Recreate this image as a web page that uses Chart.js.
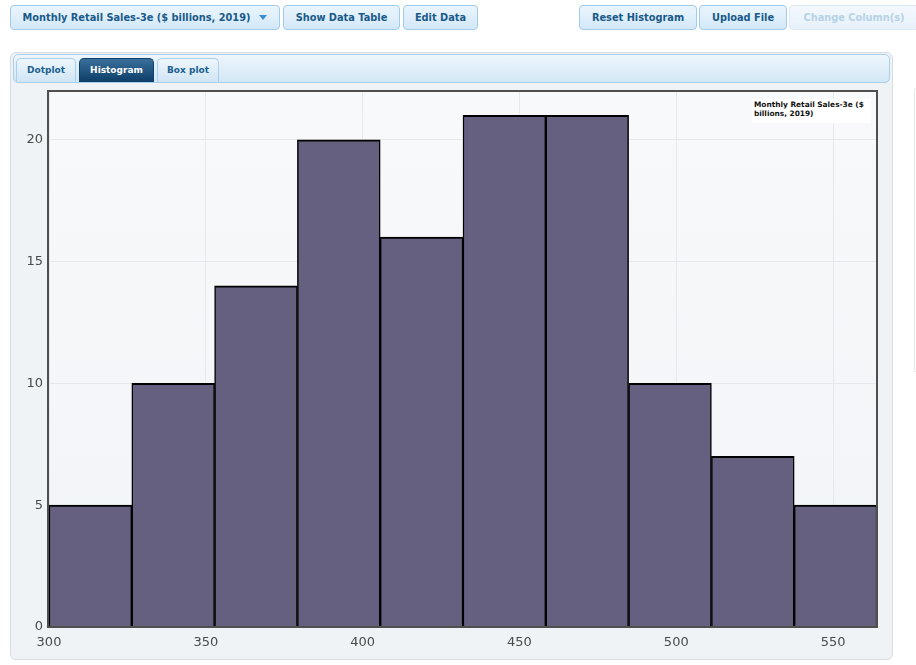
<!DOCTYPE html>
<html>
<head>
<meta charset="utf-8">
<script src="https://cdn.jsdelivr.net/npm/chart.js@4/dist/chart.umd.min.js"></script>
<style>
  html, body { margin:0; padding:0; background:#fff; width:916px; height:665px; overflow:hidden; font-family:"DejaVu Sans", sans-serif; }
  .btn { position:absolute; top:5px; height:25px; box-sizing:border-box; border:1px solid #9fcbec; border-radius:4px;
         background:linear-gradient(#eaf5fd, #d3e8f8); color:#195a8a; font-weight:bold; font-size:9.8px;
         line-height:24px; text-align:center; white-space:nowrap; }
  .btn.disabled { color:#b6d2e6; background:linear-gradient(#f3f8fd, #e7f1fa); border-color:#dce9f4; }
  .caret { display:inline-block; width:0; height:0; border-left:4px solid transparent; border-right:4px solid transparent; border-top:5px solid #3a8dd0; margin-left:9px; vertical-align:1px; }
  #panel { position:absolute; left:10px; top:52px; width:883px; height:608px; box-sizing:border-box; border:1px solid #d6dde4; border-radius:6px; background:#eff3f6; }
  #tabbar { position:absolute; left:13px; top:54px; width:877px; height:29px; box-sizing:border-box; border:1px solid #a9cfea; border-radius:5px; background:linear-gradient(#eef6fc, #d3e7f6); }
  .tab { position:absolute; top:58px; height:24px; box-sizing:border-box; border:1px solid #a9cfea; border-bottom:none; border-radius:5px 5px 0 0;
         background:linear-gradient(#eef6fc, #d0e5f5); color:#1b5f8f; font-weight:bold; font-size:9px; line-height:23px; text-align:center; }
  .tab.active { background:linear-gradient(#3a709c, #0d3d69); color:#fff; border-color:#0f416c; }
  #side { position:absolute; left:914px; top:86px; width:20px; height:288px; box-sizing:border-box; border:1px solid #e3e7eb; border-radius:5px; background:#fff; }
  #wrap { position:absolute; left:0; top:0; width:916px; height:665px; }
  #legend { position:absolute; left:752px; top:99px; width:119px; height:24px; box-sizing:border-box; background:#fff; padding:2px 2px 0 2px;
            font-weight:bold; font-size:7.4px; line-height:8.5px; color:#111; }
</style>
</head>
<body>
<div class="btn" style="left:10px;width:270px;">Monthly Retail Sales-3e ($ billions, 2019)<span class="caret"></span></div>
<div class="btn" style="left:283px;width:117px;">Show Data Table</div>
<div class="btn" style="left:403px;width:75px;">Edit Data</div>
<div class="btn" style="left:579px;width:118px;">Reset Histogram</div>
<div class="btn" style="left:699px;width:88px;">Upload File</div>
<div class="btn disabled" style="left:789px;width:130px;">Change Column(s)</div>
<div id="side"></div>
<div id="panel"></div>
<div id="tabbar"></div>
<div class="tab" style="left:16px;width:60px;">Dotplot</div>
<div class="tab active" style="left:79px;width:75px;">Histogram</div>
<div class="tab" style="left:157px;width:62px;">Box plot</div>
<div id="wrap"><canvas id="c" width="916" height="665"></canvas></div>
<div id="legend">Monthly Retail Sales-3e ($ billions, 2019)</div>
<script>
// Histogram data
const seriesName = "Monthly Retail Sales-3e ($ billions, 2019)";
const binEdges = [300, 326.4, 352.8, 379.2, 405.6, 432, 458.4, 484.8, 511.2, 537.6, 564];
const counts   = [5, 10, 14, 20, 16, 21, 21, 10, 7, 5];
const xTicks   = [300, 350, 400, 450, 500, 550];
const yTicks   = [0, 5, 10, 15, 20];

const points = counts.map((c, i) => ({ x: (binEdges[i] + binEdges[i + 1]) / 2, y: c }));

const framePlugin = {
  id: 'frame',
  beforeDraw(chart) {
    const { ctx, chartArea: a } = chart;
    const g = ctx.createLinearGradient(0, a.top, 0, a.bottom);
    g.addColorStop(0, '#f8f9fb');
    g.addColorStop(1, '#f1f4f7');
    ctx.save();
    ctx.fillStyle = g;
    ctx.fillRect(a.left, a.top, a.right - a.left, a.bottom - a.top);
    ctx.restore();
  },
  afterDraw(chart) {
    const { ctx, chartArea: a } = chart;
    ctx.save();
    ctx.strokeStyle = '#4f4f4f';
    ctx.lineWidth = 2;
    ctx.strokeRect(a.left - 1, a.top, a.right - a.left + 1, a.bottom - a.top);
    ctx.restore();
  }
};

new Chart(document.getElementById('c'), {
  type: 'bar',
  data: {
    datasets: [{
      label: seriesName,
      data: points,
      backgroundColor: '#666080',
      borderColor: '#000000',
      borderWidth: { top: 2, left: 1.5, right: 1.5, bottom: 0 },
      borderSkipped: 'bottom',
      barPercentage: 1,
      categoryPercentage: 1
    }]
  },
  options: {
    responsive: false,
    animation: false,
    layout: { padding: { left: 0, top: 91, right: 39, bottom: 0 } },
    plugins: { legend: { display: false }, tooltip: { enabled: false } },
    scales: {
      x: {
        type: 'linear',
        offset: false,
        min: binEdges[0],
        max: binEdges[binEdges.length - 1],
        afterFit(s) { s.height = 38; },
        afterBuildTicks(s) { s.ticks = xTicks.map(v => ({ value: v })); },
        ticks: { font: { family: 'DejaVu Sans', size: 13 }, color: '#4a4a4a', padding: 8, maxRotation: 0, autoSkip: false },
        grid: { color: '#e5e9ed', lineWidth: 1, drawTicks: false, offset: false },
        border: { display: false }
      },
      y: {
        min: 0,
        max: 22,
        afterFit(s) { s.width = 49; },
        afterBuildTicks(s) { s.ticks = yTicks.map(v => ({ value: v })); },
        ticks: { font: { family: 'DejaVu Sans', size: 13 }, color: '#4a4a4a', padding: 6 },
        grid: { color: '#e5e9ed', lineWidth: 1, drawTicks: false },
        border: { display: false }
      }
    }
  },
  plugins: [framePlugin]
});
</script>
</body>
</html>
